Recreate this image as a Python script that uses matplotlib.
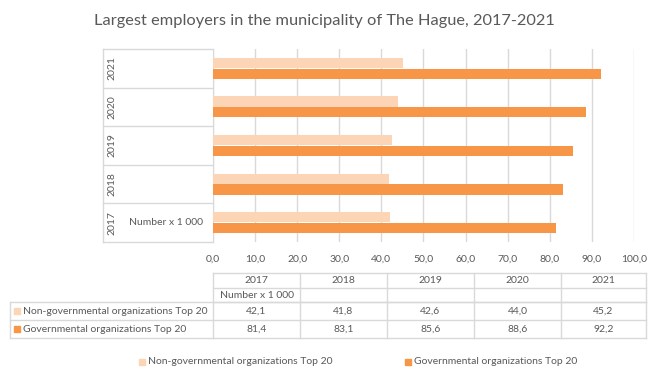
import matplotlib.pyplot as plt
from matplotlib.patches import Rectangle

years = ["2017", "2018", "2019", "2020", "2021"]
series_names = ["Non-governmental organizations Top 20",
                "Governmental organizations Top 20"]
non_gov = [42.1, 41.8, 42.6, 44.0, 45.2]
gov = [81.4, 83.1, 85.6, 88.6, 92.2]
x_ticks = [0, 10, 20, 30, 40, 50, 60, 70, 80, 90, 100]
unit_label = "Number x 1 000"
title = "Largest employers in the municipality of The Hague, 2017-2021"

LIGHT = "#FBD5B5"
DARK = "#F79646"
GRID = "#D9D9D9"
TXT = "#595959"
FONT = "Lato"
FS = 7.5

W, H = 649, 367
fig = plt.figure(figsize=(W / 100, H / 100), dpi=100)
plt.rcParams["font.family"] = [FONT, "DejaVu Sans"]


def fx(px):
    return px / W


def fy(py):
    return 1 - py / H


# plot area (pixel box)
L, R, T, B = 213, 634, 49, 242
ax = fig.add_axes([fx(L), fy(B), fx(R) - fx(L), fy(T) - fy(B)])
n = len(years)
pos = list(range(n))
bh = 0.26
ax.barh([p + bh / 2 + 0.01 for p in pos], non_gov, height=bh, color=LIGHT, zorder=3)
ax.barh([p - bh / 2 - 0.01 for p in pos], gov, height=bh, color=DARK, zorder=3)
ax.set_xlim(0, 100)
ax.set_ylim(-0.5, n - 0.5)
ax.set_xticks(x_ticks)
ax.set_xticklabels([f"{v:.1f}".replace(".", ",") for v in x_ticks],
                   color=TXT, fontsize=FS)
ax.tick_params(axis="x", length=0, pad=9)
ax.set_yticks([])
ax.grid(axis="x", color=GRID, lw=1, zorder=0)
for s in ["top", "right", "bottom"]:
    ax.spines[s].set_visible(False)
ax.spines["left"].set_color(GRID)

# overlay in pixel coordinates for category column, table and legend
ov = fig.add_axes([0, 0, 1, 1], zorder=-1)
ov.set_xlim(0, W)
ov.set_ylim(H, 0)
ov.axis("off")

fig.text(0.5, fy(21), title, ha="center", va="center", fontsize=11.8, color=TXT)

row_h = (B - T) / n
ov.plot([103, 103], [T, B], color=GRID, lw=1)
for i in range(n + 1):
    y = T + i * row_h
    ov.plot([103, L], [y, y], color=GRID, lw=1)
for i, yr in enumerate(years):
    yc = B - (i + 0.5) * row_h
    ov.text(112, yc, yr, rotation=90, ha="center", va="center",
            fontsize=FS, color=TXT)
ov.text(166, B - 0.5 * row_h, unit_label, ha="center", va="center",
        fontsize=FS, color=TXT)

# data table
cols = [213, 300, 387, 474, 561, 646]
rows = [273, 288, 302, 320, 338]
for y in rows[:3]:
    ov.plot([cols[0], cols[-1]], [y, y], color=GRID, lw=1)
for y in rows[2:]:
    ov.plot([10, cols[-1]], [y, y], color=GRID, lw=1)
for x in cols:
    ov.plot([x, x], [rows[0], rows[-1]], color=GRID, lw=1)
ov.plot([10, 10], [rows[2], rows[-1]], color=GRID, lw=1)

for j, yr in enumerate(years):
    xc = (cols[j] + cols[j + 1]) / 2
    ov.text(xc, (rows[0] + rows[1]) / 2, yr, ha="center", va="center",
            fontsize=FS, color=TXT)
    for k, vals in enumerate([non_gov, gov]):
        ov.text(xc, (rows[2 + k] + rows[3 + k]) / 2,
                f"{vals[j]:.1f}".replace(".", ","),
                ha="center", va="center", fontsize=FS, color=TXT)
ov.text((cols[0] + cols[1]) / 2, (rows[1] + rows[2]) / 2, unit_label,
        ha="center", va="center", fontsize=FS, color=TXT)

for k, (name, c) in enumerate(zip(series_names, [LIGHT, DARK])):
    yc = (rows[2 + k] + rows[3 + k]) / 2
    ov.add_patch(Rectangle((14, yc - 3), 6, 6, color=c))
    ov.text(23, yc, name, ha="left", va="center", fontsize=FS, color=TXT)

# legend
for name, c, x0 in zip(series_names, [LIGHT, DARK], [139, 405]):
    ov.add_patch(Rectangle((x0, 359), 6, 6, color=c))
    ov.text(x0 + 9, 362, name, ha="left", va="center", fontsize=FS, color=TXT)

fig.savefig("out.png", dpi=100)
